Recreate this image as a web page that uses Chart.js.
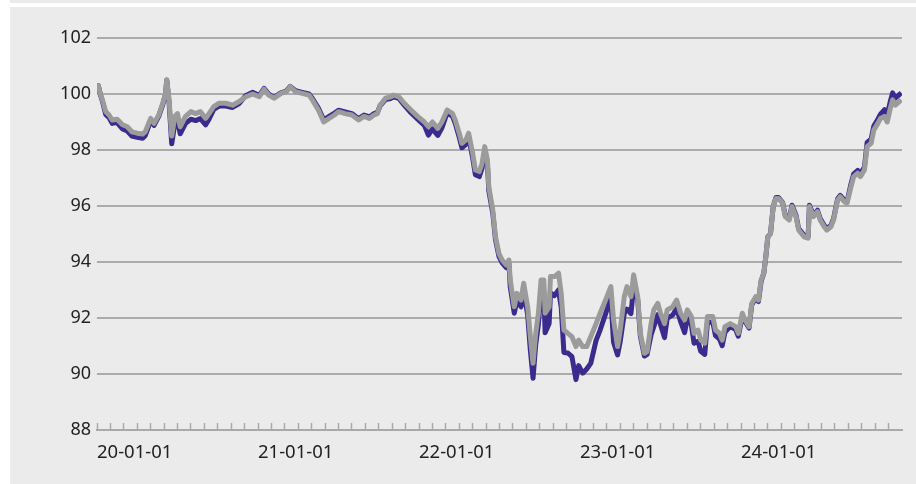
<!DOCTYPE html>
<html>
<head>
<meta charset="utf-8">
<script src="https://cdn.jsdelivr.net/npm/chart.js@4.4.1/dist/chart.umd.min.js"></script>
<style>
  html, body { margin: 0; padding: 0; background: #ffffff; width: 916px; height: 484px; overflow: hidden; }
  #strip { position: absolute; left: 10px; top: 0; width: 906px; height: 3px; background: #ebebeb; }
  #panel { position: absolute; left: 10px; top: 7px; width: 906px; height: 477px; background: #ebebeb; }
  #wrap { position: absolute; left: 0; top: 0; width: 906px; height: 477px; }
</style>
</head>
<body>
<div id="strip"></div>
<div id="panel"><div id="wrap"><canvas id="c"></canvas></div></div>
<script>
// x positions in months since 2020-01-01
const months = [
  0.0,0.1,0.25,0.4,0.65,0.9,1.14,1.5,1.9,2.26,2.6,3.0,3.4,3.6,4.0,4.25,4.6,4.9,5.1,5.2,5.37,5.57,5.8,6.0,6.2,6.6,7.0,7.35,7.7,8.1,8.35,8.7,9.1,9.6,10.1,10.6,
  11.1,11.6,12.1,12.45,12.8,13.2,13.7,14.1,14.4,14.8,15.3,15.8,16.05,16.5,16.9,17.3,17.7,18.0,18.5,19.0,19.5,19.9,20.3,20.65,20.9,21.1,21.5,21.9,22.1,22.5,22.9,
  23.4,23.9,24.4,24.7,25.0,25.4,25.7,26.1,26.5,26.7,27.0,27.2,27.5,27.7,28.0,28.2,28.5,28.7,28.9,29.1,29.2,29.5,29.7,29.96,30.2,30.5,30.7,30.8,31.1,31.3,31.6,31.8,
  32.1,32.3,32.5,32.7,32.9,33.1,33.3,33.4,33.7,33.8,34.1,34.4,34.6,34.8,35.1,35.4,35.7,35.9,36.2,36.5,36.8,37.2,37.5,37.9,38.3,38.5,38.8,39.0,39.3,39.5,39.8,40.0,
  40.3,40.5,40.8,41.0,41.3,41.5,41.8,42.0,42.3,42.5,42.9,43.2,43.5,43.8,44.0,44.3,44.5,44.8,45.0,45.3,45.5,45.9,46.1,46.4,46.6,46.8,47.2,47.6,47.8,48.1,48.3,48.6,
  48.8,49.1,49.3,49.5,49.7,49.85,50.0,50.2,50.4,50.6,50.8,51.1,51.3,51.6,51.8,52.1,52.3,52.7,53.0,53.1,53.4,53.7,53.9,54.2,54.4,54.7,54.9,55.2,55.4,55.7,55.9,
  56.2,56.4,56.7,56.9,57.2,57.4,57.7,57.9,58.2,58.4,58.7,58.9,59.1,59.3,59.5,59.8,59.95
];

// grey series
const greySeries = [
  100.26,100.3,100.0,99.8,99.37,99.25,99.07,99.1,98.9,98.83,98.65,98.6,98.57,98.65,99.13,98.95,99.25,99.67,100.0,100.5,99.8,98.5,99.2,99.3,98.83,99.2,99.37,99.3,99.37,99.13,99.3,99.55,99.67,99.67,99.6,99.73,
  99.9,100.0,99.9,100.17,99.96,99.85,100.02,100.08,100.26,100.08,100.02,99.96,99.79,99.43,99.0,99.13,99.25,99.37,99.3,99.25,99.07,99.2,99.13,99.25,99.3,99.6,99.85,99.9,99.96,99.9,99.67,
  99.43,99.2,99.0,98.83,99.0,98.77,99.0,99.43,99.3,99.07,98.6,98.24,98.36,98.6,97.88,97.29,97.23,97.52,98.12,97.64,96.69,95.86,94.9,94.3,94.07,93.9,94.07,93.36,92.4,92.88,92.64,93.24,
  92.4,91.33,90.38,91.45,92.17,93.36,93.36,92.17,92.4,93.48,93.48,93.6,92.88,91.57,91.45,91.33,90.98,91.21,90.98,90.98,91.33,91.8,92.17,92.64,93.12,91.93,90.98,91.57,92.76,93.12,92.76,93.54,
  92.76,91.45,90.74,90.8,91.8,92.29,92.52,92.17,91.8,92.29,92.4,92.64,92.17,91.93,92.29,92.05,91.45,91.57,91.21,91.1,92.05,92.05,91.57,91.45,91.21,91.69,91.8,91.69,91.45,92.17,91.93,91.69,
  92.52,92.76,92.64,93.36,93.6,94.19,94.9,95.02,95.98,96.27,96.27,96.1,95.62,95.5,95.98,95.62,95.14,94.9,94.85,95.98,95.62,95.8,95.5,95.26,95.14,95.26,95.5,96.21,96.33,96.15,96.1,
  96.69,97.05,97.17,97.05,97.29,98.12,98.24,98.71,98.95,99.13,99.19,99.0,99.43,99.79,99.6,99.73,99.79
];

// purple series
const purpleSeries = [
  100.26,100.3,99.98,99.75,99.27,99.15,98.95,98.98,98.75,98.68,98.5,98.45,98.42,98.52,99.05,98.88,99.2,99.62,99.98,100.5,99.7,98.22,98.95,99.05,98.58,98.95,99.1,99.05,99.12,98.9,99.1,99.45,99.57,99.57,99.52,99.66,
  99.95,100.06,99.95,100.2,100.0,99.87,100.04,100.1,100.27,100.12,100.06,100.0,99.85,99.5,99.08,99.2,99.32,99.42,99.36,99.3,99.12,99.25,99.18,99.3,99.34,99.58,99.8,99.84,99.9,99.84,99.6,
  99.33,99.1,98.88,98.53,98.75,98.52,98.78,99.33,99.2,98.95,98.45,98.08,98.2,98.45,97.72,97.12,97.05,97.35,97.98,97.5,96.55,95.74,94.8,94.2,93.97,93.8,93.95,93.12,92.17,92.63,92.4,93.0,
  92.1,90.85,89.85,91.05,91.78,92.95,92.98,91.47,91.8,92.9,92.8,93.0,92.38,90.77,90.75,90.62,89.8,90.3,90.03,90.18,90.38,91.2,91.57,92.14,92.72,91.13,90.68,91.17,92.16,92.32,92.16,93.14,
  92.66,91.35,90.64,90.7,91.4,91.69,92.12,91.77,91.3,91.99,92.1,92.34,91.87,91.48,91.99,91.75,91.1,91.17,90.81,90.7,91.85,91.85,91.37,91.25,91.01,91.49,91.7,91.59,91.35,92.07,91.88,91.64,
  92.47,92.71,92.59,93.31,93.6,94.19,94.9,95.02,95.98,96.3,96.3,96.12,95.67,95.55,96.03,95.67,95.19,94.95,94.9,96.03,95.67,95.85,95.55,95.31,95.19,95.31,95.55,96.26,96.38,96.2,96.15,
  96.79,97.15,97.27,97.15,97.39,98.27,98.39,98.86,99.1,99.28,99.44,99.25,99.68,100.04,99.85,99.98,100.04
];

const yearLabels = ['20-01-01', '21-01-01', '22-01-01', '23-01-01', '24-01-01'];
const yTicks = [88, 90, 92, 94, 96, 98, 100, 102];

const toPts = (arr) => arr.map((v, i) => ({ x: months[i], y: v }));

new Chart(document.getElementById('c'), {
  type: 'line',
  data: {
    datasets: [
      { data: toPts(greySeries), borderColor: '#9b9b9b', borderWidth: 5, pointRadius: 0, tension: 0, order: 1, borderJoinStyle: 'round' },
      { data: toPts(purpleSeries), borderColor: '#3c2a8e', borderWidth: 5, pointRadius: 0, tension: 0, order: 2, borderJoinStyle: 'round' }
    ]
  },
  options: {
    responsive: true,
    maintainAspectRatio: false,
    animation: false,
    events: [],
    layout: { padding: { top: 31, right: 14, bottom: 0, left: 0 } },
    plugins: { legend: { display: false }, tooltip: { enabled: false } },
    scales: {
      x: {
        type: 'linear',
        min: 0,
        max: 60,
        afterBuildTicks: (s) => { s.ticks = s.ticks.filter(t => t.value < 60); },
        afterFit: (s) => { s.height = 54; },
        border: { display: true, color: '#a9a9a9', width: 2 },
        grid: { drawOnChartArea: false, drawTicks: true, tickLength: -7, tickColor: '#a9a9a9', tickWidth: 1.5 },
        ticks: {
          stepSize: 1,
          autoSkip: false,
          maxRotation: 0,
          align: 'start',
          padding: 19,
          color: '#222222',
          font: { family: 'Noto Sans', size: 18.5 },
          callback: (v) => (v % 12 === 0 ? yearLabels[v / 12] : '')
        }
      },
      y: {
        min: 88,
        max: 102,
        afterBuildTicks: (s) => { s.ticks = yTicks.map(v => ({ value: v })); },
        afterFit: (s) => { s.width = 87; },
        border: { display: false },
        grid: { color: '#ababab', lineWidth: 2, drawTicks: false },
        ticks: {
          padding: 6,
          color: '#222222',
          font: { family: 'Noto Sans', size: 18 }
        }
      }
    }
  }
});
</script>
</body>
</html>
